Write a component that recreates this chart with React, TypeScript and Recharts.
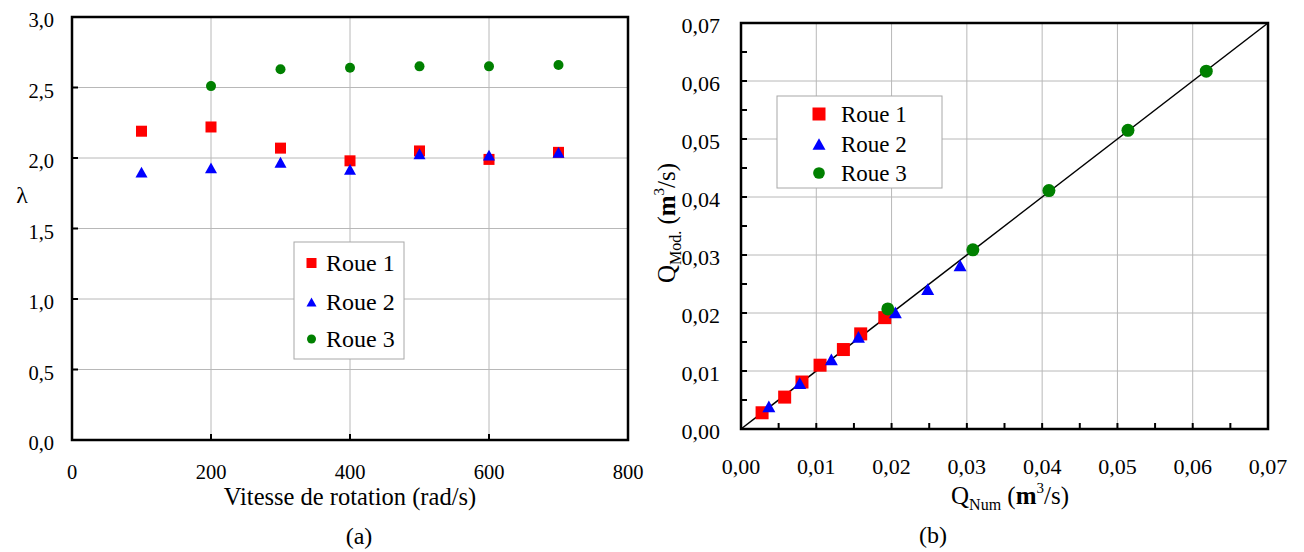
import React from 'react';
import {
  ScatterChart,
  Scatter,
  XAxis,
  YAxis,
  CartesianGrid,
  ReferenceArea,
  ReferenceLine,
  Label,
} from 'recharts';

// ---------- (a) data ----------
const seriesNames = ['Roue 1', 'Roue 2', 'Roue 3'];
const seriesColors = ['#ff0000', '#0000ff', '#008000'];

const speedRoue1 = [100, 200, 300, 400, 500, 600, 700];
const lambdaRoue1 = [2.19, 2.22, 2.07, 1.98, 2.05, 1.99, 2.04];
const speedRoue2 = [100, 200, 300, 400, 500, 600, 700];
const lambdaRoue2 = [1.9, 1.93, 1.97, 1.92, 2.03, 2.02, 2.04];
const speedRoue3 = [200, 300, 400, 500, 600, 700];
const lambdaRoue3 = [2.51, 2.63, 2.64, 2.65, 2.65, 2.66];
const speedTicks = [0, 200, 400, 600, 800];
const lambdaTicks = [0, 0.5, 1, 1.5, 2, 2.5, 3];

// ---------- (b) data ----------
const qNumRoue1 = [0.0028, 0.0058, 0.0081, 0.0105, 0.0136, 0.0159, 0.0191];
const qModRoue1 = [0.0028, 0.0055, 0.0081, 0.011, 0.0137, 0.0164, 0.0192];
const qNumRoue2 = [0.0037, 0.0078, 0.012, 0.0156, 0.0205, 0.0248, 0.0291];
const qModRoue2 = [0.0039, 0.0079, 0.012, 0.0159, 0.0201, 0.0241, 0.0282];
const qNumRoue3 = [0.0195, 0.0308, 0.0409, 0.0514, 0.0618];
const qModRoue3 = [0.0207, 0.0309, 0.0411, 0.0515, 0.0617];
const qMajorTicks = [0, 0.01, 0.02, 0.03, 0.04, 0.05, 0.06, 0.07];
const qMinorTicks = [0.005, 0.015, 0.025, 0.035, 0.045, 0.055, 0.065];

const zip = (xs: number[], ys: number[]) => xs.map((x, i) => ({ x, y: ys[i] }));

const FONT = '"Liberation Serif", "Times New Roman", serif';

// layout (a)
const LW = 660;
const H = 552;
const LA = { left: 72, right: 628, top: 17, bottom: 440 };
// layout (b) (local to the right chart)
const RW = 664;
const RA = { left: 101, right: 628, top: 23, bottom: 429 };

const fmt = (v: number, d: number) => v.toFixed(d).replace('.', ',');

// ---------- marker shapes ----------
const squareShape = (s: number, color: string) => (p: any) => (
  <rect x={p.cx - s / 2} y={p.cy - s / 2} width={s} height={s} fill={color} />
);
const triangleShape = (s: number, color: string) => (p: any) => {
  const h = s * 0.9;
  return (
    <polygon
      points={`${p.cx},${p.cy - h / 2} ${p.cx - s / 2},${p.cy + h / 2} ${p.cx + s / 2},${p.cy + h / 2}`}
      fill={color}
    />
  );
};
const circleShape = (s: number, color: string) => (p: any) => (
  <ellipse cx={p.cx} cy={p.cy} rx={s / 2} ry={s / 2} fill={color} />
);

// ---------- ticks (a) ----------
const LeftYTick = (props: any) => {
  const { y, payload } = props;
  const v = payload.value as number;
  const edge = v === lambdaTicks[0] || v === lambdaTicks[lambdaTicks.length - 1];
  return (
    <g>
      {!edge && <line x1={LA.left} x2={LA.left + 6} y1={y} y2={y} stroke="#000" strokeWidth={2} />}
      <text x={LA.left - 18} y={y + 3} textAnchor="end" dominantBaseline="central" fontFamily={FONT} fontSize={20.5} fill="#000">
        {fmt(v, 1)}
      </text>
    </g>
  );
};
const LeftXTick = (props: any) => {
  const { x, payload } = props;
  const v = payload.value as number;
  const edge = v === speedTicks[0] || v === speedTicks[speedTicks.length - 1];
  return (
    <g>
      {!edge && <line x1={x} x2={x} y1={LA.bottom} y2={LA.bottom - 6} stroke="#000" strokeWidth={2} />}
      <text x={x} y={472} textAnchor="middle" dominantBaseline="central" fontFamily={FONT} fontSize={20.5} fill="#000">
        {String(v)}
      </text>
    </g>
  );
};

// ---------- ticks (b) ----------
const isMajor = (v: number) => qMajorTicks.some((m) => Math.abs(m - v) < 1e-9);
const isEdge = (v: number) =>
  Math.abs(v - qMajorTicks[0]) < 1e-9 || Math.abs(v - qMajorTicks[qMajorTicks.length - 1]) < 1e-9;

const RightYTick = (props: any) => {
  const { y, payload } = props;
  const v = payload.value as number;
  return (
    <g>
      {!isEdge(v) && <line x1={RA.left} x2={RA.left + 6} y1={y} y2={y} stroke="#000" strokeWidth={2} />}
      {isMajor(v) && (
        <text x={RA.left - 21} y={y + 2} textAnchor="end" dominantBaseline="central" fontFamily={FONT} fontSize={22} fill="#000">
          {fmt(v, 2)}
        </text>
      )}
    </g>
  );
};
const RightXTick = (props: any) => {
  const { x, payload } = props;
  const v = payload.value as number;
  return (
    <g>
      {!isEdge(v) && <line x1={x} x2={x} y1={RA.bottom} y2={RA.bottom - 6} stroke="#000" strokeWidth={2} />}
      {isMajor(v) && (
        <text x={x} y={466} textAnchor="middle" dominantBaseline="central" fontFamily={FONT} fontSize={22} fill="#000">
          {fmt(v, 2)}
        </text>
      )}
    </g>
  );
};

// ---------- axis titles ----------
const LeftXTitle = () => (
  <text x={350} y={505} textAnchor="middle" fontFamily={FONT} fontSize={24.5} fill="#000">
    Vitesse de rotation (rad/s)
  </text>
);
const LeftYTitle = () => (
  <text x={22} y={203} textAnchor="middle" fontFamily={FONT} fontSize={24} fill="#000">
    λ
  </text>
);
const RightXTitle = () => (
  <text x={370} y={504} textAnchor="middle" fontFamily={FONT} fontSize={25} fill="#000">
    <tspan>Q</tspan>
    <tspan fontSize={16} dy={6}>Num</tspan>
    <tspan dy={-6}> (</tspan>
    <tspan fontWeight="bold">m</tspan>
    <tspan fontSize={15} dy={-11}>3</tspan>
    <tspan dy={11}>/s)</tspan>
  </text>
);
const RightYTitle = () => (
  <text
    x={35}
    y={223}
    transform="rotate(-90, 35, 223)"
    textAnchor="middle"
    fontFamily={FONT}
    fontSize={25}
    fill="#000"
  >
    <tspan>Q</tspan>
    <tspan fontSize={16} dy={6}>Mod.</tspan>
    <tspan dy={-6}> (</tspan>
    <tspan fontWeight="bold">m</tspan>
    <tspan fontSize={15} dy={-11}>3</tspan>
    <tspan dy={11}>/s)</tspan>
  </text>
);

// ---------- legend ----------
type LegendProps = {
  box: { x: number; y: number; w: number; h: number };
  rows: number[];
  markerX: number;
  textX: number;
  fontSize: number;
  marker: number;
};
const ChartLegend = ({ box, rows, markerX, textX, fontSize, marker }: LegendProps) => {
  const shapes = [squareShape, triangleShape, circleShape];
  return (
    <g>
      <rect x={box.x} y={box.y} width={box.w} height={box.h} fill="#fff" stroke="#a8a8a8" strokeWidth={1} />
      {seriesNames.map((name, i) => (
        <g key={name}>
          {shapes[i](i === 2 ? marker * 0.9 : marker, seriesColors[i])({ cx: markerX, cy: rows[i] })}
          <text x={textX} y={rows[i]} dominantBaseline="central" fontFamily={FONT} fontSize={fontSize} fill="#000">
            {name}
          </text>
        </g>
      ))}
    </g>
  );
};

const gridStroke = '#b8b8b8';

export default function App() {
  const a1 = zip(speedRoue1, lambdaRoue1);
  const a2 = zip(speedRoue2, lambdaRoue2);
  const a3 = zip(speedRoue3, lambdaRoue3);
  const b1 = zip(qNumRoue1, qModRoue1);
  const b2 = zip(qNumRoue2, qModRoue2);
  const b3 = zip(qNumRoue3, qModRoue3);
  const qAll = [...qMajorTicks, ...qMinorTicks].sort((p, q) => p - q);
  const qMin = qMajorTicks[0];
  const qMax = qMajorTicks[qMajorTicks.length - 1];

  return (
    <div style={{ position: 'absolute', left: 0, top: 0, width: 1304, height: H, background: '#fff', fontFamily: FONT }}>
      <div style={{ position: 'absolute', left: 0, top: 0 }}>
        <ScatterChart
          width={LW}
          height={H}
          margin={{ top: LA.top, right: LW - LA.right, left: LA.left - 60, bottom: H - LA.bottom - 30 }}
        >
          <CartesianGrid stroke={gridStroke} strokeWidth={1} verticalValues={speedTicks} horizontalValues={lambdaTicks} />
          <XAxis
            type="number"
            dataKey="x"
            domain={[speedTicks[0], speedTicks[speedTicks.length - 1]]}
            ticks={speedTicks}
            interval={0}
            height={30}
            axisLine={false}
            tickLine={false}
            tick={<LeftXTick />}
          >
            <Label content={<LeftXTitle />} />
          </XAxis>
          <YAxis
            type="number"
            dataKey="y"
            domain={[lambdaTicks[0], lambdaTicks[lambdaTicks.length - 1]]}
            ticks={lambdaTicks}
            interval={0}
            width={60}
            axisLine={false}
            tickLine={false}
            tick={<LeftYTick />}
          >
            <Label content={<LeftYTitle />} />
          </YAxis>
          <Scatter name={seriesNames[0]} data={a1} isAnimationActive={false} shape={squareShape(11, seriesColors[0])} />
          <Scatter name={seriesNames[1]} data={a2} isAnimationActive={false} shape={triangleShape(12, seriesColors[1])} />
          <Scatter name={seriesNames[2]} data={a3} isAnimationActive={false} shape={circleShape(10, seriesColors[2])} />
          <ReferenceArea
            x1={speedTicks[0]}
            x2={speedTicks[speedTicks.length - 1]}
            y1={lambdaTicks[0]}
            y2={lambdaTicks[lambdaTicks.length - 1]}
            fill="none"
            fillOpacity={0}
            stroke="#000"
            strokeWidth={2.5}
          />
        </ScatterChart>
      </div>

      <div style={{ position: 'absolute', left: 640, top: 0 }}>
        <ScatterChart
          width={RW}
          height={H}
          margin={{ top: RA.top, right: RW - RA.right, left: RA.left - 60, bottom: H - RA.bottom - 30 }}
        >
          <CartesianGrid stroke={gridStroke} strokeWidth={1} verticalValues={qMajorTicks} horizontalValues={qMajorTicks} />
          <XAxis
            type="number"
            dataKey="x"
            domain={[qMin, qMax]}
            ticks={qAll}
            interval={0}
            height={30}
            axisLine={false}
            tickLine={false}
            tick={<RightXTick />}
          >
            <Label content={<RightXTitle />} />
          </XAxis>
          <YAxis
            type="number"
            dataKey="y"
            domain={[qMin, qMax]}
            ticks={qAll}
            interval={0}
            width={60}
            axisLine={false}
            tickLine={false}
            tick={<RightYTick />}
          >
            <Label content={<RightYTitle />} />
          </YAxis>
          <ReferenceLine
            segment={[
              { x: qMin, y: qMin },
              { x: qMax, y: qMax },
            ]}
            stroke="#000"
            strokeWidth={1.5}
          />
          <Scatter name={seriesNames[0]} data={b1} isAnimationActive={false} shape={squareShape(13, seriesColors[0])} />
          <Scatter name={seriesNames[1]} data={b2} isAnimationActive={false} shape={triangleShape(13, seriesColors[1])} />
          <Scatter name={seriesNames[2]} data={b3} isAnimationActive={false} shape={circleShape(13, seriesColors[2])} />
          <ReferenceArea x1={qMin} x2={qMax} y1={qMin} y2={qMax} fill="none" fillOpacity={0} stroke="#000" strokeWidth={2.5} />
        </ScatterChart>
      </div>

      <svg
        width={1304}
        height={H}
        style={{ position: 'absolute', left: 0, top: 0, pointerEvents: 'none' }}
      >
        <ChartLegend
          box={{ x: 294, y: 242, w: 110, h: 117 }}
          rows={[263, 302, 339]}
          markerX={311.5}
          textX={326}
          fontSize={24}
          marker={10}
        />
        <ChartLegend
          box={{ x: 777, y: 96, w: 165, h: 92 }}
          rows={[114, 144, 173]}
          markerX={819}
          textX={841}
          fontSize={23}
          marker={13}
        />
        <text x={359} y={544} textAnchor="middle" fontFamily={FONT} fontSize={24} fill="#000">
          (a)
        </text>
        <text x={933} y={543} textAnchor="middle" fontFamily={FONT} fontSize={24} fill="#000">
          (b)
        </text>
      </svg>
    </div>
  );
}
